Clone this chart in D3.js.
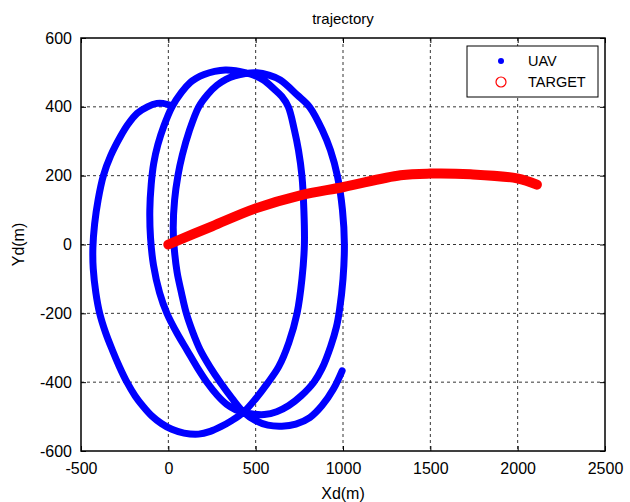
<!DOCTYPE html>
<html>
<head>
<meta charset="utf-8">
<script src="https://cdn.jsdelivr.net/npm/d3@7"></script>
<style>
body{margin:0;background:#fff}
svg{display:block;font-family:"Liberation Sans",Arial,sans-serif}
</style>
</head>
<body>
<svg id="chart" width="630" height="502"></svg>
<script>
// ticks
var xTicks = [-500,0,500,1000,1500,2000,2500];
var yTicks = [-600,-400,-200,0,200,400,600];

// UAV track in flight order
var uavX = [8,-30,-65,-120,-179,-230,-275,-330,-372,-402,-422,-432,-430,-415,-393,-360,-322,-280,-237,-190,-145,-95,-40,20,90,173,240,298,365,431,
	500,565,632,690,737,765,779,776,765,745,722,687,650,603,545,490,441,385,326,265,205,160,126,75,21,
	-25,-60,-84,-98,-106,-102,-85,-50,-8,50,107,165,222,280,335,385,431,
	490,550,620,690,760,832,880,930,962,980,1000,1008,997,968,928,882,808,739,641,575,508,441,380,330,279,225,174,
	120,80,55,36,28,32,50,75,103,140,183,240,298,365,431,
	500,570,650,730,810,880,945,995];
var uavY = [405,410,410,400,381,350,313,258,200,130,60,-10,-70,-140,-200,-255,-305,-355,-400,-440,-470,-498,-520,-537,-548,-551,-543,-530,-511,-487,
	-448,-405,-355,-285,-200,-100,0,100,199,274,332,400,430,453,478,492,499,505,507,503,494,483,471,442,400,
	345,290,235,175,100,20,-60,-140,-200,-258,-307,-357,-401,-438,-465,-480,-487,
	-493,-494,-486,-468,-440,-401,-360,-295,-240,-190,-100,0,100,199,274,332,400,434,478,492,499,497,490,480,463,436,400,
	330,260,200,130,50,0,-80,-140,-200,-255,-307,-357,-401,-447,-487,
	-512,-525,-528,-522,-503,-468,-420,-367];

// target track
var targetX = [0,250,500,756,1004,1329,1500,1730,1997,2110];
var targetY = [0,53,105,143,167,201,206,204,192,174];

var seriesNames = ["UAV","TARGET"];
var seriesColors = ["#0000ff","#ff0000"];

var svg = d3.select("#chart");
var padL = 81, padR = 605, padT = 38, padB = 451;

var x = d3.scaleLinear().domain([-500,2500]).range([padL,padR]);
var y = d3.scaleLinear().domain([-600,600]).range([padB,padT]);

function fmt(d){ return String(d); }

// grid
svg.append("g").selectAll("line").data(xTicks.slice(1,-1)).enter().append("line")
	.attr("x1",function(d){return x(d);}).attr("x2",function(d){return x(d);})
	.attr("y1",padT).attr("y2",padB)
	.attr("stroke","#000").attr("stroke-width",0.8).attr("stroke-dasharray","3,3");
svg.append("g").selectAll("line").data(yTicks.slice(1,-1)).enter().append("line")
	.attr("y1",function(d){return y(d);}).attr("y2",function(d){return y(d);})
	.attr("x1",padL).attr("x2",padR)
	.attr("stroke","#000").attr("stroke-width",0.8).attr("stroke-dasharray","3,3");

// axes
svg.append("g").attr("transform","translate(0,"+padB+")")
	.call(d3.axisBottom(x).tickValues(xTicks).tickSize(-5).tickPadding(12).tickFormat(fmt));
svg.append("g").attr("transform","translate("+padL+",0)")
	.call(d3.axisLeft(y).tickValues(yTicks).tickSize(-5).tickPadding(9).tickFormat(fmt));
svg.append("g").attr("transform","translate(0,"+padT+")")
	.call(d3.axisTop(x).tickValues(xTicks).tickSize(-5).tickFormat(""));
svg.append("g").attr("transform","translate("+padR+",0)")
	.call(d3.axisRight(y).tickValues(yTicks).tickSize(-5).tickFormat(""));
svg.selectAll(".domain").remove();
svg.selectAll(".tick text").attr("font-size",16).attr("fill","#000")
	.attr("font-family","'Liberation Sans',Arial,sans-serif");

// box
svg.append("rect").attr("x",padL).attr("y",padT).attr("width",padR-padL).attr("height",padB-padT)
	.attr("fill","none").attr("stroke","#000").attr("stroke-width",1.5);

var line = d3.line().curve(d3.curveCatmullRom.alpha(0.5))
	.x(function(d){return x(d[0]);}).y(function(d){return y(d[1]);});

var uav = d3.zip(uavX,uavY);
var target = d3.zip(targetX,targetY);

svg.append("path").datum(uav).attr("d",line)
	.attr("fill","none").attr("stroke",seriesColors[0]).attr("stroke-width",7)
	.attr("stroke-linecap","round").attr("stroke-linejoin","round");
svg.append("path").datum(target).attr("d",line)
	.attr("fill","none").attr("stroke",seriesColors[1]).attr("stroke-width",10)
	.attr("stroke-linecap","round").attr("stroke-linejoin","round");

// labels
svg.append("text").attr("x",(padL+padR)/2).attr("y",24).attr("text-anchor","middle")
	.attr("font-size",15).text("trajectory");
svg.append("text").attr("x",(padL+padR)/2).attr("y",499).attr("text-anchor","middle")
	.attr("font-size",16).text("Xd(m)");
svg.append("text").attr("transform","translate(24,"+((padT+padB)/2)+") rotate(-90)")
	.attr("text-anchor","middle").attr("font-size",16).text("Yd(m)");

// legend
var lg = svg.append("g");
lg.append("rect").attr("x",467).attr("y",46).attr("width",131).attr("height",51)
	.attr("fill","#fff").attr("stroke","#000").attr("stroke-width",1);
lg.append("circle").attr("cx",501).attr("cy",61).attr("r",3).attr("fill",seriesColors[0]);
lg.append("circle").attr("cx",501).attr("cy",82).attr("r",5).attr("fill","none")
	.attr("stroke",seriesColors[1]).attr("stroke-width",1.2);
lg.selectAll("text.lab").data(seriesNames).enter().append("text").attr("class","lab")
	.attr("x",528).attr("y",function(d,i){return 66+i*21;})
	.attr("font-size",14.5).text(function(d){return d;});
</script>
</body>
</html>
